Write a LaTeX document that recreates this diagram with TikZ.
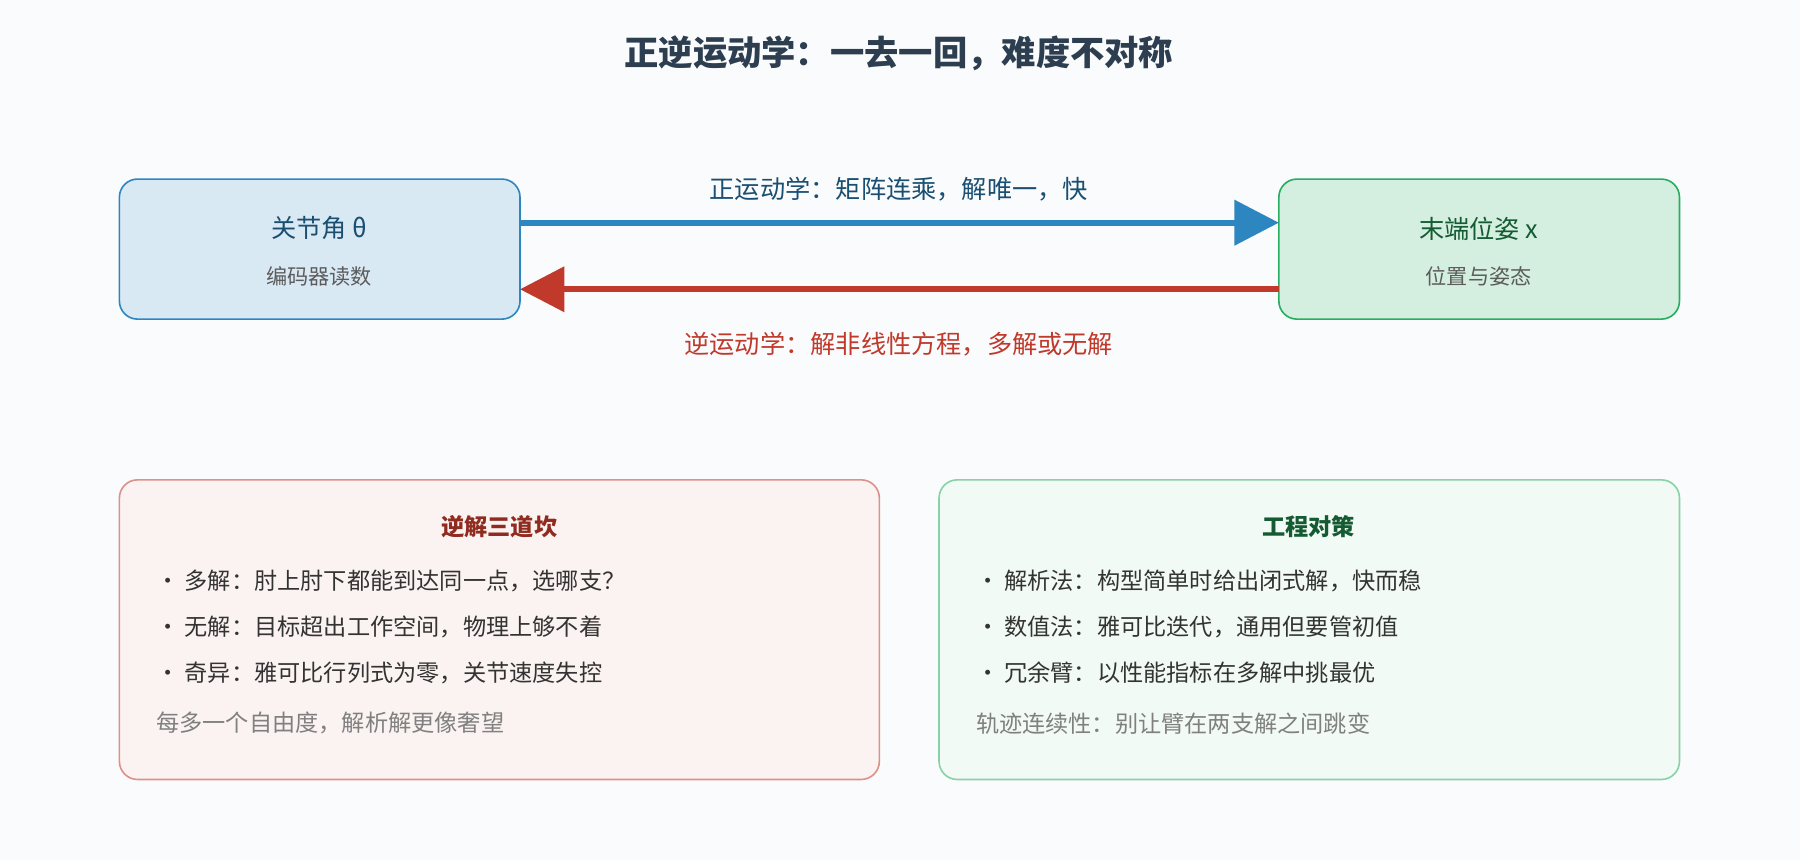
\documentclass[tikz,border=0pt]{standalone}
\usepackage{fontspec}
\setmainfont{Noto Sans CJK SC}
\usetikzlibrary{arrows.meta}
\definecolor{bg}{HTML}{FAFBFC}
\definecolor{titlec}{HTML}{2C3E50}
\definecolor{fkblue}{HTML}{2E86C1}
\definecolor{fkdark}{HTML}{1B4F72}
\definecolor{ikred}{HTML}{C0392B}
\definecolor{okgreen}{HTML}{27AE60}
\definecolor{okdark}{HTML}{145A32}
\definecolor{txtc}{HTML}{333333}
\definecolor{mutec}{HTML}{808080}
\tikzset{
  box/.style={rounded corners=9pt, line width=0.8pt},
  big/.style={font=\fontsize{12.5}{14}\selectfont},
  small/.style={font=\fontsize{10.5}{12}\selectfont, text=txtc!80},
  item/.style={anchor=west, font=\fontsize{11.5}{13}\selectfont, text=txtc},
  note/.style={anchor=west, font=\fontsize{11.5}{13}\selectfont, text=mutec},
  head/.style={font=\bfseries\fontsize{11.5}{13}\selectfont},
  arr/.style={line width=3pt, -{Triangle[length=22pt,width=22pt]}}
}
\begin{document}
\begin{tikzpicture}[x=0.02cm,y=-0.02cm]
  \fill[bg] (0,0) rectangle (1568,749);
  %TITLE
  \node[font=\bfseries\fontsize{17}{20}\selectfont, text=titlec] (title) at (783,46) {正逆运动学：一去一回，难度不对称};
  %TOP BOXES
  \draw[box, fill=fkblue!18, draw=fkblue] (104,156) rectangle (453,278);
  \coordinate (jR) at (453,194);
  \coordinate (jR2) at (453,252);
  \node[big, text=fkdark] (joint) at (278,199) {关节角 θ};
  \node[small] (enc) at (278,241) {编码器读数};
  \draw[box, fill=okgreen!20, draw=okgreen] (1114,156) rectangle (1463,278);
  \coordinate (eL) at (1114,194);
  \coordinate (eL2) at (1114,252);
  \node[big, text=okdark] (pose) at (1288,199) {末端位姿 x};
  \node[small] (posesub) at (1288,241) {位置与姿态};
  %ARROWS
  \draw[arr, fkblue] (jR) -- (eL);
  \draw[arr, ikred] (eL2) -- (jR2);
  \node[big, text=fkdark] (fk) at (783,165) {正运动学：矩阵连乘，解唯一，快};
  \node[big, text=ikred] (ik) at (783,300) {逆运动学：解非线性方程，多解或无解};
  %BOTTOM LEFT
  \draw[box, fill=ikred!6, draw=ikred!55] (104,418) rectangle (766,679);
  \node[head, text=ikred!75!black] (hard) at (435,459) {逆解三道坎};
  \node[item] (h1) at (130,506) {· 多解：肘上肘下都能到达同一点，选哪支？};
  \node[item] (h2) at (130,546) {· 无解：目标超出工作空间，物理上够不着};
  \node[item] (h3) at (130,586) {· 奇异：雅可比行列式为零，关节速度失控};
  \node[note] (h4) at (130,630) {每多一个自由度，解析解更像奢望};
  %BOTTOM RIGHT
  \draw[box, fill=okgreen!6, draw=okgreen!55] (818,418) rectangle (1463,679);
  \node[head, text=okdark] (fix) at (1140,459) {工程对策};
  \node[item] (f1) at (844,506) {· 解析法：构型简单时给出闭式解，快而稳};
  \node[item] (f2) at (844,546) {· 数值法：雅可比迭代，通用但要管初值};
  \node[item] (f3) at (844,586) {· 冗余臂：以性能指标在多解中挑最优};
  \node[note] (f4) at (844,630) {轨迹连续性：别让臂在两支解之间跳变};
\end{tikzpicture}
\end{document}
